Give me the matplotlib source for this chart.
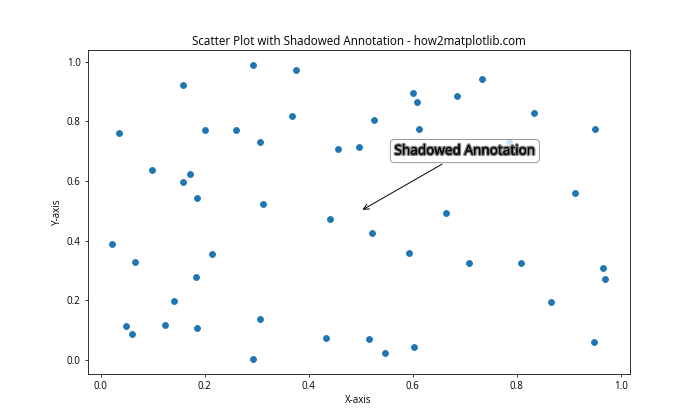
import matplotlib
matplotlib.use("Agg")
import matplotlib.pyplot as plt
import matplotlib.patheffects as path_effects

plt.rcParams['font.family'] = ['Open Sans', 'DejaVu Sans']

# point positions
x = [0.292, 0.375, 0.158, 0.733, 0.600, 0.608, 0.685, 0.833, 0.368, 0.526,
     0.035, 0.200, 0.260, 0.306, 0.456, 0.497, 0.612, 0.951, 0.785, 0.099,
     0.172, 0.158, 0.185, 0.312, 0.441, 0.911, 0.664, 0.522, 0.022, 0.214,
     0.066, 0.183, 0.141, 0.306, 0.049, 0.124, 0.185, 0.060, 0.433, 0.516,
     0.293, 0.593, 0.708, 0.808, 0.966, 0.970, 0.866, 0.949, 0.547, 0.603]
y = [0.988, 0.971, 0.921, 0.941, 0.894, 0.864, 0.886, 0.829, 0.816, 0.803,
     0.759, 0.769, 0.769, 0.729, 0.706, 0.712, 0.773, 0.773, 0.729, 0.635,
     0.622, 0.595, 0.542, 0.522, 0.472, 0.559, 0.492, 0.425, 0.388, 0.355,
     0.328, 0.278, 0.197, 0.137, 0.114, 0.117, 0.107, 0.087, 0.074, 0.070,
     0.003, 0.358, 0.324, 0.324, 0.308, 0.271, 0.194, 0.060, 0.023, 0.044]

fig, ax = plt.subplots(figsize=(10, 6), dpi=70)
ax.scatter(x, y)

text = ax.annotate('Shadowed Annotation', xy=(0.5, 0.5), xytext=(0.7, 0.7),
                   ha='center', va='center', fontsize=14,
                   arrowprops=dict(arrowstyle='->', color='black'),
                   bbox=dict(boxstyle='round', fc='white', ec='gray', alpha=0.8))
text.set_path_effects([path_effects.withStroke(linewidth=3, foreground='gray'),
                       path_effects.Normal()])

ax.set_title('Scatter Plot with Shadowed Annotation - how2matplotlib.com')
ax.set_xlabel('X-axis')
ax.set_ylabel('Y-axis')

plt.savefig('out.png')
